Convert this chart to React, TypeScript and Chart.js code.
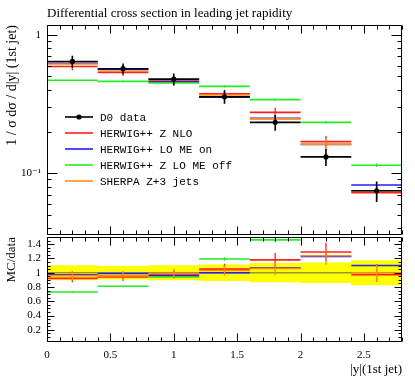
import React, { useEffect, useRef } from "react";
import { Chart, registerables } from "chart.js";

Chart.register(...registerables);

// ---------------- data ----------------
const binEdges = [0, 0.4, 0.8, 1.2, 1.6, 2.0, 2.4, 2.8];
const d0Data = [0.642, 0.569, 0.478, 0.356, 0.233, 0.131, 0.0745];
const d0RelErr = [0.1, 0.09, 0.1, 0.11, 0.13, 0.14, 0.17];
const herwigZNLO = [0.591, 0.535, 0.468, 0.374, 0.275, 0.169, 0.0723];
const herwigZNLOErr = [0.06, 0.06, 0.06, 0.07, 0.08, 0.1, 0.1];
const herwigLOMEon = [0.623, 0.563, 0.457, 0.356, 0.249, 0.161, 0.082];
const herwigLOMEonErr = [0.01, 0.01, 0.015, 0.015, 0.02, 0.02, 0.02];
const herwigLOMEoff = [0.469, 0.461, 0.449, 0.424, 0.34, 0.233, 0.114];
const herwigLOMEoffErr = [0.01, 0.015, 0.015, 0.02, 0.02, 0.02, 0.03];
const sherpaZ3jets = [0.616, 0.546, 0.473, 0.367, 0.247, 0.162, 0.0745];
const sherpaZ3jetsErr = [0.07, 0.07, 0.07, 0.07, 0.09, 0.1, 0.12];

const titleText = "Differential cross section in leading jet rapidity";
const yTitleTop = "1 / σ dσ / d|y| (1st jet)";
const yTitleBottom = "MC/data";
const xTitle = "|y|(1st jet)";
const dataLabel = "D0 data";

const mcSeries = [
  { label: "HERWIG++ Z NLO", color: "#ff1f1f", values: herwigZNLO, err: herwigZNLOErr },
  { label: "HERWIG++ LO ME on", color: "#1f1fff", values: herwigLOMEon, err: herwigLOMEonErr },
  { label: "HERWIG++ Z LO ME off", color: "#22ee22", values: herwigLOMEoff, err: herwigLOMEoffErr },
  { label: "SHERPA Z+3 jets", color: "#ff8a1a", values: sherpaZ3jets, err: sherpaZ3jetsErr },
];

// ---------------- helpers ----------------
const centers = binEdges.slice(0, -1).map((lo, i) => (lo + binEdges[i + 1]) / 2);

function steps(vals: number[]) {
  const pts: any[] = [];
  vals.forEach((v, i) => {
    pts.push({ x: binEdges[i], y: v }, { x: binEdges[i + 1], y: v }, { x: binEdges[i + 1], y: null });
  });
  return pts;
}
function errBars(vals: number[], rel: number[]) {
  const pts: any[] = [];
  vals.forEach((v, i) => {
    pts.push({ x: centers[i], y: v * (1 - rel[i]) }, { x: centers[i], y: v * (1 + rel[i]) }, { x: centers[i], y: null });
  });
  return pts;
}
const ratio = (vals: number[]) => vals.map((v, i) => v / d0Data[i]);

const SERIF = '"Liberation Serif", "DejaVu Serif", serif';
const MONO = '"Liberation Mono", "DejaVu Sans Mono", monospace';

function lineDs(data: any[], color: string, width = 1.6, yAxisID = "y") {
  return {
    type: "line",
    data,
    borderColor: color,
    backgroundColor: color,
    borderWidth: width,
    pointRadius: 0,
    fill: false,
    tension: 0,
    spanGaps: false,
    yAxisID,
  };
}

function frameTicks(chart: any, yMajor: number[], yMinor: number[], yMajLen: number, yMinLen: number) {
  const { ctx, chartArea: a, scales } = chart;
  const xs = scales.x;
  const ys = scales.y;
  ctx.save();
  ctx.strokeStyle = "#000";
  ctx.lineWidth = 1;
  const L = Math.round(a.left) + 0.5;
  const R = Math.round(a.right) - 0.5;
  const T = Math.round(a.top) + 0.5;
  const B = Math.round(a.bottom) - 0.5;
  ctx.beginPath();
  ctx.rect(L, T, R - L, B - T);
  ctx.stroke();
  ctx.beginPath();
  for (let k = 0; k <= 28; k++) {
    const v = k / 10;
    const px = Math.round(xs.getPixelForValue(v)) + 0.5;
    const len = k % 5 === 0 ? 8 : 4;
    ctx.moveTo(px, T);
    ctx.lineTo(px, T + len);
    ctx.moveTo(px, B);
    ctx.lineTo(px, B - len);
  }
  const yt = (v: number, len: number) => {
    const py = Math.round(ys.getPixelForValue(v)) + 0.5;
    ctx.moveTo(L, py);
    ctx.lineTo(L + len, py);
    ctx.moveTo(R, py);
    ctx.lineTo(R - len, py);
  };
  yMajor.forEach((v) => yt(v, yMajLen));
  yMinor.forEach((v) => yt(v, yMinLen));
  ctx.stroke();
  ctx.restore();
}

const logMajor = [0.1, 1];
const logMinor = [0.04, 0.05, 0.06, 0.07, 0.08, 0.09, 0.2, 0.3, 0.4, 0.5, 0.6, 0.7, 0.8, 0.9];
const ratioMajor = [0.2, 0.4, 0.6, 0.8, 1.0, 1.2, 1.4];
const ratioMinor: number[] = [];
for (let k = 1; k < 30; k++) if (k % 4 !== 0) ratioMinor.push(k * 0.05);

export default function App() {
  const topRef = useRef<HTMLCanvasElement>(null);
  const botRef = useRef<HTMLCanvasElement>(null);

  useEffect(() => {
    // ---------- top panel ----------
    const topDatasets: any[] = [];
    topDatasets.push({
      type: "line",
      data: centers.map((c, i) => ({ x: c, y: d0Data[i] })),
      showLine: false,
      pointRadius: 2.6,
      pointBackgroundColor: "#000",
      pointBorderColor: "#000",
      pointBorderWidth: 0,
      borderColor: "#000",
    });
    topDatasets.push(lineDs(errBars(d0Data, d0RelErr), "#000", 1.6));
    topDatasets.push(lineDs(steps(d0Data), "#000", 1.6));
    [...mcSeries].reverse().forEach((s) => {
      topDatasets.push(lineDs(errBars(s.values, s.err), s.color, 1.3));
      topDatasets.push(lineDs(steps(s.values), s.color, 1.6));
    });

    const topPlugin = {
      id: "topDecor",
      afterDraw(chart: any) {
        frameTicks(chart, logMajor, logMinor, 10, 4);
        const { ctx } = chart;
        ctx.save();
        ctx.fillStyle = "#000";
        ctx.font = `13px ${SERIF}`;
        ctx.textBaseline = "alphabetic";
        ctx.textAlign = "left";
        ctx.fillText(titleText, 47, 17);
        // legend
        const rows = [117, 133, 149, 165, 181];
        ctx.font = `11px ${MONO}`;
        ctx.textBaseline = "middle";
        const entries = [{ label: dataLabel, color: "#000" }, ...mcSeries];
        entries.forEach((e, i) => {
          const y = rows[i];
          ctx.strokeStyle = e.color;
          ctx.lineWidth = 1.6;
          ctx.beginPath();
          ctx.moveTo(65, y);
          ctx.lineTo(93, y);
          ctx.stroke();
          if (i === 0) {
            ctx.beginPath();
            ctx.arc(79, y, 2.6, 0, Math.PI * 2);
            ctx.fillStyle = "#000";
            ctx.fill();
          }
          ctx.fillStyle = "#000";
          ctx.fillText(e.label, 100, y + 1);
        });
        ctx.restore();
      },
    };

    const c1 = new Chart(topRef.current!, {
      type: "line",
      data: { datasets: topDatasets },
      options: {
        animation: false,
        responsive: false,
        devicePixelRatio: 1,
        events: [],
        layout: { padding: { left: 0, right: 13, top: 25, bottom: 1 } },
        plugins: { legend: { display: false }, tooltip: { enabled: false }, title: { display: false } },
        elements: { point: { radius: 0 } },
        scales: {
          x: { type: "linear", min: 0, max: 2.8, display: false, offset: false },
          y: {
            type: "logarithmic",
            min: 0.0357,
            max: 1.178,
            position: "left",
            grid: { display: false, drawTicks: false },
            border: { display: false },
            ticks: {
              autoSkip: false,
              padding: 6,
              color: "#000",
              font: { family: SERIF, size: 11 },
              callback: (v: any) => {
                const n = Number(v);
                if (Math.abs(n - 1) < 1e-9) return "1";
                if (Math.abs(n - 0.1) < 1e-9) return "10⁻¹";
                return "";
              },
            },
            title: {
              display: true,
              text: yTitleTop,
              align: "end",
              color: "#000",
              font: { family: SERIF, size: 14 },
              padding: { top: 4, bottom: 0 },
            },
            afterFit: (s: any) => {
              s.width = 47;
              s.paddingTop = 0;
              s.paddingBottom = 0;
            },
          },
        },
      } as any,
      plugins: [topPlugin],
    } as any);

    // ---------- ratio panel ----------
    const botDatasets: any[] = [];
    [...mcSeries].reverse().forEach((s) => {
      const r = ratio(s.values);
      botDatasets.push(lineDs(errBars(r, s.err), s.color, 1.3));
      botDatasets.push(lineDs(steps(r), s.color, 1.6));
    });
    botDatasets.push({ ...lineDs(steps(d0Data.map(() => 1)), "#949433", 1.6), order: 5 });
    botDatasets.push({
      type: "bar",
      data: centers.map((c, i) => ({ x: c, y: [1 - d0RelErr[i], 1 + d0RelErr[i]] })),
      backgroundColor: "#ffff00",
      borderWidth: 0,
      barPercentage: 1,
      categoryPercentage: 1,
      order: 10,
    });

    const botPlugin = {
      id: "botDecor",
      afterDraw(chart: any) {
        frameTicks(chart, ratioMajor, ratioMinor, 7, 3);
      },
    };

    const c2 = new Chart(botRef.current!, {
      type: "line",
      data: { datasets: botDatasets },
      options: {
        animation: false,
        responsive: false,
        devicePixelRatio: 1,
        events: [],
        layout: { padding: { left: 0, right: 13, top: 0, bottom: 0 } },
        plugins: { legend: { display: false }, tooltip: { enabled: false }, title: { display: false } },
        elements: { point: { radius: 0 } },
        scales: {
          x: {
            type: "linear",
            min: 0,
            max: 2.8,
            offset: false,
            grid: { display: false, drawTicks: false },
            border: { display: false },
            ticks: {
              stepSize: 0.5,
              includeBounds: false,
              autoSkip: false,
              maxRotation: 0,
              padding: 7,
              color: "#000",
              font: { family: SERIF, size: 11 },
              callback: (v: any) => String(Number(Number(v).toFixed(1))),
            },
            title: {
              display: true,
              text: xTitle,
              align: "end",
              color: "#000",
              font: { family: SERIF, size: 13 },
              padding: { top: 0, bottom: 2 },
            },
            afterFit: (s: any) => {
              s.height = 37;
              s.paddingLeft = 0;
              s.paddingRight = 0;
            },
          },
          y: {
            type: "linear",
            min: 0.03,
            max: 1.5,
            position: "left",
            grid: { display: false, drawTicks: false },
            border: { display: false },
            ticks: {
              stepSize: 0.2,
              includeBounds: false,
              autoSkip: false,
              padding: 6,
              color: "#000",
              font: { family: SERIF, size: 11 },
              callback: (v: any) => String(Number(Number(v).toFixed(1))),
            },
            title: {
              display: true,
              text: yTitleBottom,
              align: "end",
              color: "#000",
              font: { family: SERIF, size: 13 },
              padding: { top: 4, bottom: 0 },
            },
            afterFit: (s: any) => {
              s.width = 47;
              s.paddingTop = 0;
              s.paddingBottom = 0;
            },
          },
        },
      } as any,
      plugins: [botPlugin],
    } as any);

    return () => {
      c1.destroy();
      c2.destroy();
    };
  }, []);

  return (
    <div style={{ position: "absolute", left: 0, top: 0, width: 415, height: 379, background: "#fff" }}>
      <canvas ref={topRef} width={415} height={239} style={{ position: "absolute", left: 0, top: 0 }} />
      <canvas ref={botRef} width={415} height={142} style={{ position: "absolute", left: 0, top: 237 }} />
    </div>
  );
}
